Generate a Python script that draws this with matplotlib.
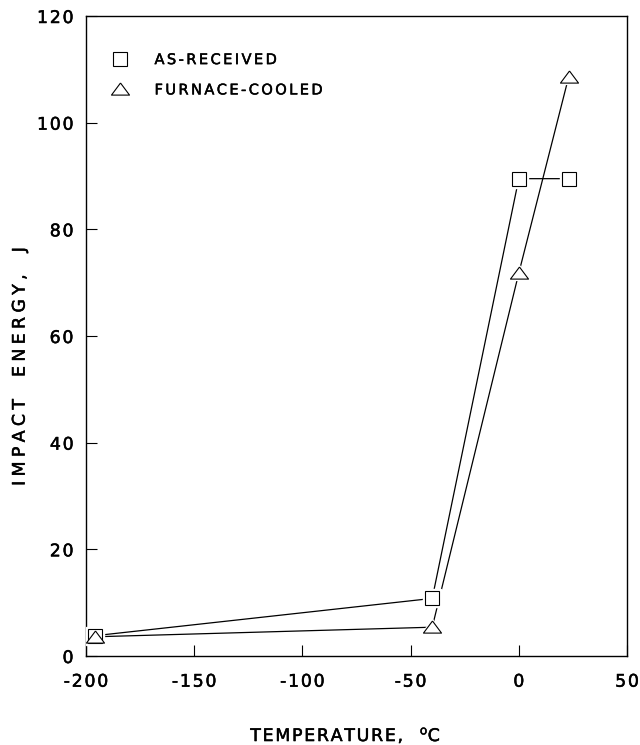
import matplotlib
matplotlib.use('Agg')
import matplotlib.pyplot as plt
import matplotlib.patheffects as pe
from matplotlib.ticker import FixedFormatter

# data
temp_ar = [-196, -40, 0, 23]
energy_ar = [3.8, 10.8, 89.5, 89.5]
temp_fc = [-196, -40, 0, 23]
energy_fc = [3.6, 5.4, 71.8, 108.5]

x_ticks = [-200, -150, -100, -50, 0, 50]
y_ticks = [0, 20, 40, 60, 80, 100, 120]


def spaced(s, gap):
    # crude letter spacing, like the old plotter lettering
    return gap.join(s)


plt.rcParams['font.family'] = ['DejaVu Sans']
heavy = [pe.withStroke(linewidth=0.35, foreground='black')]

fig = plt.figure(figsize=(6.4, 7.45), dpi=100)
ax = fig.add_axes([86 / 640, 89 / 745, 541 / 640, 640 / 745])

# flattened triangle, wider than tall
tri = [(0, 0.72), (-1, -0.62), (1, -0.62), (0, 0.72)]

ax.plot(temp_ar, energy_ar, color='black', lw=0.9, zorder=2)
ax.plot(temp_fc, energy_fc, color='black', lw=0.9, zorder=2)
# white halos so the lines stop short of the markers
ax.plot(temp_ar, energy_ar, ls='none', marker='s', ms=13, mfc='white', mec='white', zorder=3)
ax.plot(temp_fc, energy_fc, ls='none', marker=tri, ms=16, mfc='white', mec='white', zorder=3)
ax.plot(temp_ar, energy_ar, ls='none', marker='s', ms=9.5, mfc='white', mec='black', mew=0.8,
        label=spaced('AS-RECEIVED', '\u2006'), zorder=4)
ax.plot(temp_fc, energy_fc, ls='none', marker=tri, ms=13, mfc='white', mec='black', mew=0.8,
        label=spaced('FURNACE-COOLED', '\u2006'), zorder=4)

ax.set_xlim(-200, 50)
ax.set_ylim(0, 120)
ax.set_xticks(x_ticks)
ax.set_yticks(y_ticks)
ax.xaxis.set_major_formatter(FixedFormatter([spaced(str(v), '\u200a') for v in x_ticks]))
ax.yaxis.set_major_formatter(FixedFormatter([spaced(str(v), '\u200a') for v in y_ticks]))
ax.tick_params(direction='in', length=8, width=0.8, labelsize=12.5)
ax.tick_params(axis='x', pad=12)
ax.tick_params(axis='y', pad=9)
for s in ax.spines.values():
    s.set_linewidth(1.0)

ax.set_xlabel(spaced('TEMPERATURE,', '\u200a') + '   $^{\\mathrm{o}}$C', fontsize=12.5)
ax.xaxis.set_label_coords(0.48, -0.108)
ax.set_ylabel(spaced('IMPACT', '\u2005') + '    ' + spaced('ENERGY,', '\u2005') + '    J',
              fontsize=12.5)
ax.yaxis.set_label_coords(-0.106, 0.453)

leg = ax.legend(loc='upper left', frameon=False, fontsize=10.5, handletextpad=1.9,
                labelspacing=1.05, borderpad=0, handlelength=1.0,
                bbox_to_anchor=(0.035, 0.955))

for t in ax.get_xticklabels() + ax.get_yticklabels() + leg.get_texts():
    t.set_path_effects(heavy)
ax.xaxis.label.set_path_effects(heavy)
ax.yaxis.label.set_path_effects(heavy)

fig.savefig('out.png', dpi=100)
